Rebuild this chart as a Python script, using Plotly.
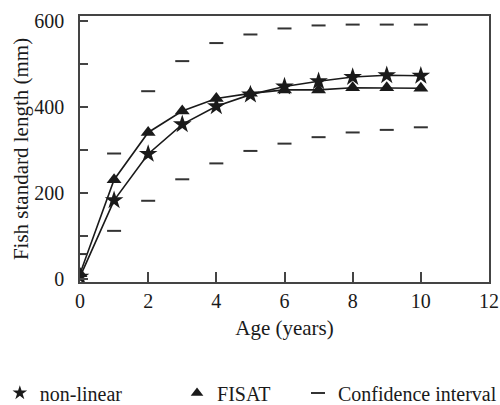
import plotly.graph_objects as go

ages = [0, 1, 2, 3, 4, 5, 6, 7, 8, 9, 10]
nonlinear = [5, 183, 291, 360, 402, 429, 448, 460, 470, 474, 473]
fisat = [12, 231, 341, 391, 420, 432, 440, 440, 445, 445, 444]
ci_upper = [58, 292, 437, 507, 549, 569, 583, 590, 592, 592, 592]
ci_lower = [-80, 112, 182, 232, 269, 298, 315, 330, 341, 347, 353]

font_family = "Liberation Serif, Times New Roman, serif"
ink = "#1a1a1a"
NB = "\u00a0"

fig = go.Figure()

fig.add_trace(go.Scatter(
    x=ages, y=nonlinear, mode="lines+markers", name="non-linear",
    line=dict(color=ink, width=1.6),
    marker=dict(symbol="star", size=14, color=ink),
    showlegend=False))
fig.add_trace(go.Scatter(
    x=ages, y=fisat, mode="lines+markers", name="FISAT",
    line=dict(color=ink, width=1.6),
    marker=dict(symbol="triangle-up", size=13, color=ink),
    showlegend=False))
fig.add_trace(go.Scatter(
    x=ages + ages, y=ci_upper + ci_lower, mode="markers",
    name="Confidence interval",
    marker=dict(symbol="line-ew", size=10, line=dict(color="#333", width=2)),
    showlegend=False))

# legend-only entries (marker symbols only, as in the reference)
fig.add_trace(go.Scatter(x=[None], y=[None], mode="markers",
                         name="non-linear" + NB * 10,
                         marker=dict(symbol="star", size=11, color=ink),
                         legend="legend"))
fig.add_trace(go.Scatter(x=[None], y=[None], mode="markers",
                         name="FISAT",
                         marker=dict(symbol="triangle-up", size=11, color=ink),
                         legend="legend"))
fig.add_trace(go.Scatter(x=[None], y=[None], mode="markers",
                         name="Confidence interval",
                         marker=dict(symbol="line-ew", size=10,
                                     line=dict(color="#333", width=2)),
                         legend="legend2"))

legend_common = dict(orientation="h", xanchor="left", y=-0.417,
                     yanchor="middle",
                     font=dict(family=font_family, size=20, color=ink),
                     itemwidth=30, tracegroupgap=0,
                     bgcolor="rgba(0,0,0,0)")

fig.update_layout(
    width=500, height=405,
    margin=dict(l=80, r=11, t=16, b=123, autoexpand=False),
    paper_bgcolor="white", plot_bgcolor="white",
    font=dict(family=font_family, size=20, color=ink),
    legend=dict(x=-0.196, **legend_common),
    legend2=dict(x=0.533, **legend_common),
    xaxis=dict(range=[0, 12], tickvals=[0, 2, 4, 6, 8, 10, 12],
               ticks="inside", ticklen=10, tickcolor="#444", tickwidth=1.5,
               ticklabeloverflow="allow",
               showline=True, linecolor="#444", linewidth=1.5, mirror=True,
               showgrid=False, zeroline=False, automargin=False,
               title=dict(text="Age (years)", font=dict(size=21), standoff=10)),
    yaxis=dict(range=[-7, 612], tickvals=[0, 200, 400, 600],
               ticks="inside", ticklen=8, tickcolor="#444", tickwidth=1.5,
               ticklabelstandoff=10, automargin=False,
               minor=dict(tickvals=[100, 300, 500], ticks="inside", ticklen=8,
                          tickcolor="#444", tickwidth=1.5),
               showline=True, linecolor="#444", linewidth=1.5, mirror=True,
               showgrid=False, zeroline=False,
               title=dict(text="Fish standard length (mm)", font=dict(size=21),
                          standoff=0)),
)

fig.write_html("out.html", config={"displayModeBar": False},
               post_script="document.body.style.margin='0';")
